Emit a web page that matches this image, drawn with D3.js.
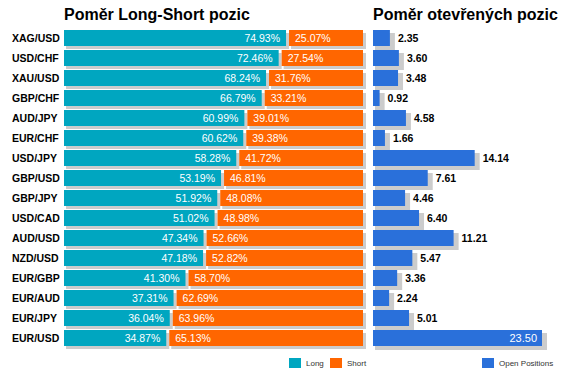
<!DOCTYPE html>
<html>
<head>
<meta charset="utf-8">
<script src="https://cdn.jsdelivr.net/npm/d3@7"></script>
<style>
  body { margin: 0; background: #fff; }
  svg { display: block; font-family: Arial, "Liberation Sans", sans-serif; }
</style>
</head>
<body>
<div id="chart"></div>
<script>
var pairs = ['XAG/USD', 'USD/CHF', 'XAU/USD', 'GBP/CHF', 'AUD/JPY', 'EUR/CHF', 'USD/JPY', 'GBP/USD',
             'GBP/JPY', 'USD/CAD', 'AUD/USD', 'NZD/USD', 'EUR/GBP', 'EUR/AUD', 'EUR/JPY', 'EUR/USD'];
var longPct = [74.93, 72.46, 68.24, 66.79, 60.99, 60.62, 58.28, 53.19, 51.92, 51.02, 47.34, 47.18, 41.30, 37.31, 36.04, 34.87];
var shortPct = [25.07, 27.54, 31.76, 33.21, 39.01, 39.38, 41.72, 46.81, 48.08, 48.98, 52.66, 52.82, 58.70, 62.69, 63.96, 65.13];
var openPos = [2.35, 3.60, 3.48, 0.92, 4.58, 1.66, 14.14, 7.61, 4.46, 6.40, 11.21, 5.47, 3.36, 2.24, 5.01, 23.50];
var titles = ['Poměr Long-Short pozic', 'Poměr otevřených pozic'];
var legendLS = ['Long', 'Short'];
var legendOpen = ['Open Positions'];

var width = 572,
    height = 379,
    longColor = '#00a6c0',
    shortColor = '#ff6600',
    openColor = '#2a70da',
    shadow = '#cccccc';

var svg = d3.select('#chart')
    .append('svg')
    .attr('width', width)
    .attr('height', height);

var rows = pairs.map(function (p, i) {
    return { pair: p, long: longPct[i], short: shortPct[i], open: openPos[i] };
});

var y = d3.scaleBand()
    .domain(pairs)
    .range([28, 348])
    .paddingInner(0.2)
    .paddingOuter(0.1);

// left: long/short split
var x1 = d3.scaleLinear().domain([0, 100]).range([64, 363]);
// right: open positions
var x2 = d3.scaleLinear().domain([0, 23.5]).range([373, 542]);

var bh = y.bandwidth();

svg.selectAll('.pair')
    .data(rows)
    .enter()
    .append('text')
    .attr('class', 'pair')
    .attr('x', 12)
    .attr('y', function (d) { return y(d.pair) + bh / 2; })
    .attr('dy', '0.35em')
    .style('font-size', '10.5px')
    .style('font-weight', 'bold')
    .text(function (d) { return d.pair; });

var left = svg.selectAll('.ls')
    .data(rows)
    .enter()
    .append('g')
    .attr('class', 'ls')
    .attr('transform', function (d) { return 'translate(0,' + y(d.pair) + ')'; });

// shadows first
left.append('rect')
    .attr('x', function (d) { return x1(0) + 2; })
    .attr('y', 3)
    .attr('width', function (d) { return x1(d.long) - x1(0) - 1; })
    .attr('height', bh)
    .attr('fill', shadow);
left.append('rect')
    .attr('x', function (d) { return x1(d.long) + 3; })
    .attr('y', 3)
    .attr('width', function (d) { return x1(100) - x1(d.long); })
    .attr('height', bh)
    .attr('fill', shadow);

left.append('rect')
    .attr('x', x1(0))
    .attr('width', function (d) { return x1(d.long) - x1(0) - 2; })
    .attr('height', bh)
    .attr('fill', longColor);
left.append('rect')
    .attr('x', function (d) { return x1(d.long) + 1; })
    .attr('width', function (d) { return x1(100) - x1(d.long) - 1; })
    .attr('height', bh)
    .attr('fill', shortColor);

left.append('text')
    .attr('x', function (d) { return x1(d.long) - 8; })
    .attr('y', bh / 2)
    .attr('dy', '0.35em')
    .attr('text-anchor', 'end')
    .attr('fill', '#fff')
    .style('font-size', '10.5px')
    .text(function (d) { return d.long.toFixed(2) + '%'; });
left.append('text')
    .attr('x', function (d) { return x1(d.long) + 7; })
    .attr('y', bh / 2)
    .attr('dy', '0.35em')
    .attr('fill', '#fff')
    .style('font-size', '10.5px')
    .text(function (d) { return d.short.toFixed(2) + '%'; });

var right = svg.selectAll('.op')
    .data(rows)
    .enter()
    .append('g')
    .attr('class', 'op')
    .attr('transform', function (d) { return 'translate(0,' + y(d.pair) + ')'; });

right.append('rect')
    .attr('x', x2(0) + 2)
    .attr('y', 3)
    .attr('width', function (d) { return x2(d.open) - x2(0) + 3; })
    .attr('height', bh + 1)
    .attr('fill', shadow);
right.append('rect')
    .attr('x', x2(0))
    .attr('width', function (d) { return x2(d.open) - x2(0); })
    .attr('height', bh)
    .attr('fill', openColor);

var maxOpen = d3.max(openPos);
right.append('text')
    .attr('x', function (d) { return d.open === maxOpen ? x2(d.open) - 5 : x2(d.open) + 8; })
    .attr('y', bh / 2)
    .attr('dy', '0.35em')
    .attr('text-anchor', function (d) { return d.open === maxOpen ? 'end' : 'start'; })
    .attr('fill', function (d) { return d.open === maxOpen ? '#fff' : '#000'; })
    .style('font-size', function (d) { return d.open === maxOpen ? '11px' : '10.5px'; })
    .style('font-weight', function (d) { return d.open === maxOpen ? 'normal' : 'bold'; })
    .text(function (d) { return d.open.toFixed(2); });

// titles
svg.selectAll('.title')
    .data(titles)
    .enter()
    .append('text')
    .attr('class', 'title')
    .attr('x', function (d, i) { return i === 0 ? x1(0) : x2(0); })
    .attr('y', 20)
    .style('font-size', '16px')
    .style('font-weight', 'bold')
    .text(function (d) { return d; });

// legends
var legendItems = [
    { label: legendLS[0], color: longColor, x: 289 },
    { label: legendLS[1], color: shortColor, x: 330 },
    { label: legendOpen[0], color: openColor, x: 482 }
];
var lg = svg.selectAll('.legend')
    .data(legendItems)
    .enter()
    .append('g')
    .attr('class', 'legend')
    .attr('transform', function (d) { return 'translate(' + d.x + ',358)'; });
lg.append('rect')
    .attr('width', 12)
    .attr('height', 10)
    .attr('fill', function (d) { return d.color; });
lg.append('text')
    .attr('x', 17)
    .attr('y', 5)
    .attr('dy', '0.35em')
    .attr('fill', '#333')
    .style('font-size', '8px')
    .text(function (d) { return d.label; });
</script>
</body>
</html>
